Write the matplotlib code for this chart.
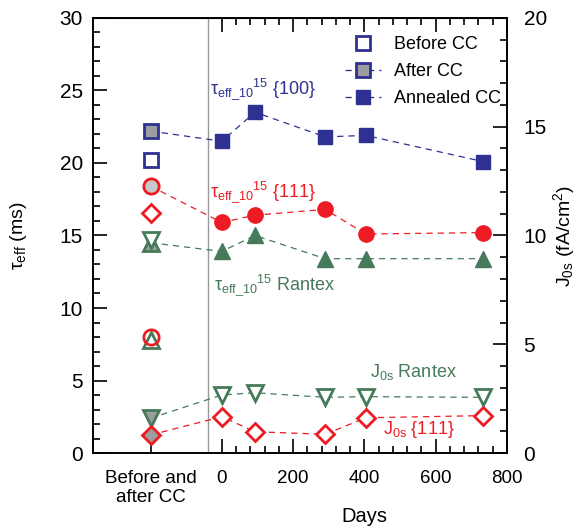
import matplotlib
matplotlib.use("Agg")
import matplotlib.pyplot as plt
from matplotlib.lines import Line2D

plt.rcParams["font.family"] = ["Liberation Sans", "DejaVu Sans"]
plt.rcParams["mathtext.fontset"] = "custom"
plt.rcParams["mathtext.rm"] = "Liberation Sans"
plt.rcParams["mathtext.it"] = "Liberation Sans:italic"

BLUE = "#2e3192"
RED = "#ed1c24"
GREEN = "#457a5a"
GRAY = "#9d9d9f"

# x position of the "before and after CC" column
BA_X = -200
SEP_X = -40

days = [0, 93, 290, 404, 733]

tau_100 = [21.5, 23.5, 21.8, 21.9, 20.1]
tau_111 = [15.9, 16.4, 16.8, 15.1, 15.2]
tau_rantex = [13.9, 15.0, 13.4, 13.4, 13.4]
j0s_rantex = [2.67, 2.77, 2.56, 2.59, 2.56]
j0s_111 = [1.67, 0.98, 0.86, 1.62, 1.72]

# before / after charge (CC)
tau_100_ba = [20.2, 22.2]
tau_111_ba = [8.0, 18.4]
tau_rantex_ba = [7.8, 14.5]
j0s_rantex_ba = [9.8, 1.6]
j0s_111_ba = [11.05, 0.83]

xticks = [BA_X, 0, 200, 400, 600, 800]
xticklabels = ["Before and\nafter CC", "0", "200", "400", "600", "800"]

fig = plt.figure(figsize=(5.8, 5.28), dpi=100)
ax = fig.add_axes([0.160, 0.142, 0.714, 0.824])
ax2 = ax.twinx()

dash = dict(ls=(0, (5, 4)), lw=0.9)

# tau series (left axis)
for vals, ba, col, mk, ms in [(tau_100, tau_100_ba, BLUE, "s", 10),
                              (tau_111, tau_111_ba, RED, "o", 11),
                              (tau_rantex, tau_rantex_ba, GREEN, "^", 11)]:
    ax.plot([BA_X] + days, [ba[1]] + vals, color=col, **dash, zorder=2)
    ax.plot(days, vals, ls="none", marker=mk, ms=ms, color=col, zorder=3)

# J0s series (right axis)
for vals, ba, col, mk, ms in [(j0s_rantex, j0s_rantex_ba, GREEN, "v", 11),
                              (j0s_111, j0s_111_ba, RED, "D", 9)]:
    ax2.plot([BA_X] + days, [ba[1]] + vals, color=col, **dash, zorder=2)
    ax2.plot(days, vals, ls="none", marker=mk, ms=ms, mfc="white",
             mec=col, mew=2, zorder=3)

# before CC (open) and after CC (gray) markers
ax2.plot(BA_X, j0s_rantex_ba[0], marker="v", ms=11, mfc="white", mec=GREEN, mew=2, zorder=4)
ax.plot(BA_X, tau_rantex_ba[1], marker="^", ms=11, mfc=GRAY, mec=GREEN, mew=2, zorder=4)
ax.plot(BA_X, tau_rantex_ba[0], marker="^", ms=11, mfc="white", mec=GREEN, mew=2, zorder=4)
ax.plot(BA_X, tau_111_ba[0], marker="o", ms=11, mfc="none", mec=RED, mew=2, zorder=4)
ax.plot(BA_X, tau_111_ba[1], marker="o", ms=11, mfc="#c8c8c8", mec=RED, mew=2, zorder=4)
ax2.plot(BA_X, j0s_111_ba[0], marker="D", ms=9, mfc="white", mec=RED, mew=2, zorder=4)
ax.plot(BA_X, tau_100_ba[0], marker="s", ms=10, mfc="white", mec=BLUE, mew=2, zorder=4)
ax.plot(BA_X, tau_100_ba[1], marker="s", ms=10, mfc=GRAY, mec=BLUE, mew=2, zorder=4)
ax2.plot(BA_X, j0s_rantex_ba[1], marker="v", ms=11, mfc=GRAY, mec=GREEN, mew=2, zorder=4)
ax2.plot(BA_X, j0s_111_ba[1], marker="D", ms=9, mfc=GRAY, mec=RED, mew=2, zorder=4)

ax.axvline(SEP_X, color="#999999", lw=1.0, zorder=1)

ax.set_xlim(-362, 800)
ax.set_ylim(0, 30)
ax2.set_ylim(0, 20)

ax.set_xticks(xticks)
ax.set_xticklabels(xticklabels)
ax.set_xticks(range(0, 801, 40), minor=True)
ax.set_yticks(range(0, 31, 5))
ax.set_yticks(range(0, 31, 1), minor=True)
ax2.set_yticks(range(0, 21, 5))
ax2.set_yticks(range(0, 21, 1), minor=True)

ax.tick_params(which="both", direction="in", labelsize=15, width=1.2, pad=7)
ax.tick_params(axis="x", labelsize=13.5, pad=12)
ax.tick_params(which="major", length=10)
ax.tick_params(which="minor", length=5)
ax2.tick_params(which="both", direction="in", labelsize=15, width=1.2, pad=12)
ax2.tick_params(which="major", length=10)
ax2.tick_params(which="minor", length=5)

top = ax.secondary_xaxis("top")
top.set_xticks([0, 200, 400, 600, 800])
top.set_xticks(range(0, 801, 40), minor=True)
top.tick_params(which="both", direction="in", labeltop=False, width=1.2)
top.tick_params(which="major", length=10)
top.tick_params(which="minor", length=5)

for a in (ax, ax2):
    for sp in a.spines.values():
        sp.set_linewidth(1.2)

ax.set_ylabel(r"τ$_{\mathrm{eff}}$ (ms)", fontsize=14, labelpad=22)
ax2.set_ylabel(r"J$_{\mathrm{0s}}$ (fA/cm$^{2}$)", fontsize=14, labelpad=3)
ax.text(400, -4.4, "Days", fontsize=14.5, ha="center", va="center")

ax.text(-33, 25.1, r"τ$_{\mathrm{eff\_10}}$${}^{15}$ {100}", color=BLUE,
        fontsize=13, va="center")
ax.text(-33, 18.0, r"τ$_{\mathrm{eff\_10}}$${}^{15}$ {111}", color=RED,
        fontsize=13, va="center")
ax.text(-22, 11.6, r"τ$_{\mathrm{eff\_10}}$${}^{15}$ Rantex", color=GREEN,
        fontsize=13, va="center")
ax.text(416, 5.6, r"J$_{\mathrm{0s}}$ Rantex", color=GREEN, fontsize=13, va="center")
ax.text(453, 1.6, r"J$_{\mathrm{0s}}$ {111}", color=RED, fontsize=13, va="center")

handles = [
    Line2D([], [], ls="none", marker="s", ms=10, mfc="white", mec=BLUE, mew=2),
    Line2D([], [], color=BLUE, **dash, marker="s", ms=10, mfc=GRAY, mec=BLUE, mew=2),
    Line2D([], [], color=BLUE, **dash, marker="s", ms=10),
]
ax.legend(handles, ["Before CC", "After CC", "Annealed CC"], loc="upper right",
          bbox_to_anchor=(1.025, 0.995), frameon=False, fontsize=13,
          handlelength=2.0, handletextpad=0.7, labelspacing=0.55)

fig.savefig("out.png", dpi=100)
